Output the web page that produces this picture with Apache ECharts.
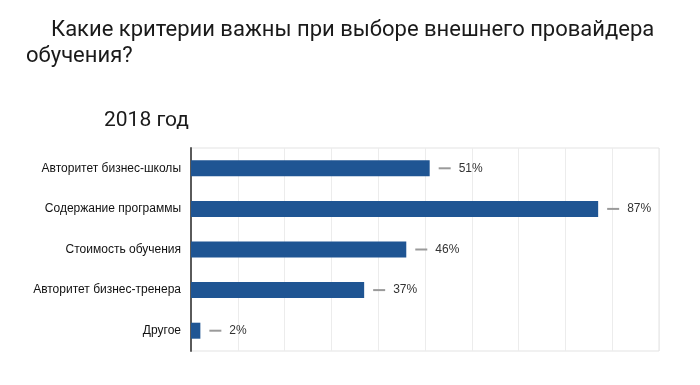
<!DOCTYPE html>
<html>
<head>
<meta charset="utf-8">
<script src="https://cdn.jsdelivr.net/npm/echarts@6/dist/echarts.min.js"></script>
<style>
html,body{margin:0;padding:0;background:#fff;}
#chart{width:700px;height:385px;}
</style>
</head>
<body>
<div id="chart"></div>
<script>
var titleLine1 = 'Какие критерии важны при выборе внешнего провайдера';
var titleLine2 = 'обучения?';
var subtitle = '2018 год';
var categories = ['Авторитет бизнес-школы', 'Содержание программы', 'Стоимость обучения', 'Авторитет бизнес-тренера', 'Другое'];
var values = [51, 87, 46, 37, 2];
var xTicks = [0, 10, 20, 30, 40, 50, 60, 70, 80, 90, 100];

var chart = echarts.init(document.getElementById('chart'), null, {renderer: 'canvas'});
chart.setOption({
  backgroundColor: '#ffffff',
  animation: false,
  title: [
    {text: titleLine1, left: 46, top: 14, textStyle: {fontFamily: 'Roboto', fontSize: 22, fontWeight: 'normal', color: '#1a1a1a'}},
    {text: titleLine2, left: 21, top: 40, textStyle: {fontFamily: 'Roboto', fontSize: 22, fontWeight: 'normal', color: '#1a1a1a'}},
    {text: subtitle, left: 99, top: 105, textStyle: {fontFamily: 'Roboto', fontSize: 21, fontWeight: 'normal', color: '#1a1a1a'}}
  ],
  grid: {
    left: 191, right: 41, top: 148, bottom: 34,
    show: true, borderColor: '#e3e3e3', borderWidth: 1
  },
  xAxis: {
    type: 'value', min: xTicks[0], max: xTicks[xTicks.length - 1], interval: 10,
    axisLine: {show: false}, axisTick: {show: false}, axisLabel: {show: false},
    splitLine: {show: true, lineStyle: {color: '#ececec', width: 1}}
  },
  yAxis: {
    type: 'category', data: categories, inverse: true,
    axisLine: {show: true, lineStyle: {color: '#5a5a5a', width: 2}},
    axisTick: {show: false},
    axisLabel: {margin: 10, fontFamily: 'Liberation Sans', fontSize: 12, color: '#111111'},
    splitLine: {show: false}
  },
  series: [{
    type: 'bar', data: values, barWidth: 16,
    itemStyle: {color: '#1f5593'},
    label: {
      show: true, position: 'right', distance: 9,
      formatter: function (p) { return '{d| }{s| }{v|' + p.value + '%}'; },
      rich: {
        d: {width: 12, height: 2, backgroundColor: '#9a9a9a', fontSize: 2, lineHeight: 2},
        s: {width: 8, fontSize: 12},
        v: {color: '#333333', fontSize: 12, fontFamily: 'Liberation Sans'}
      }
    }
  }]
});
</script>
</body>
</html>
